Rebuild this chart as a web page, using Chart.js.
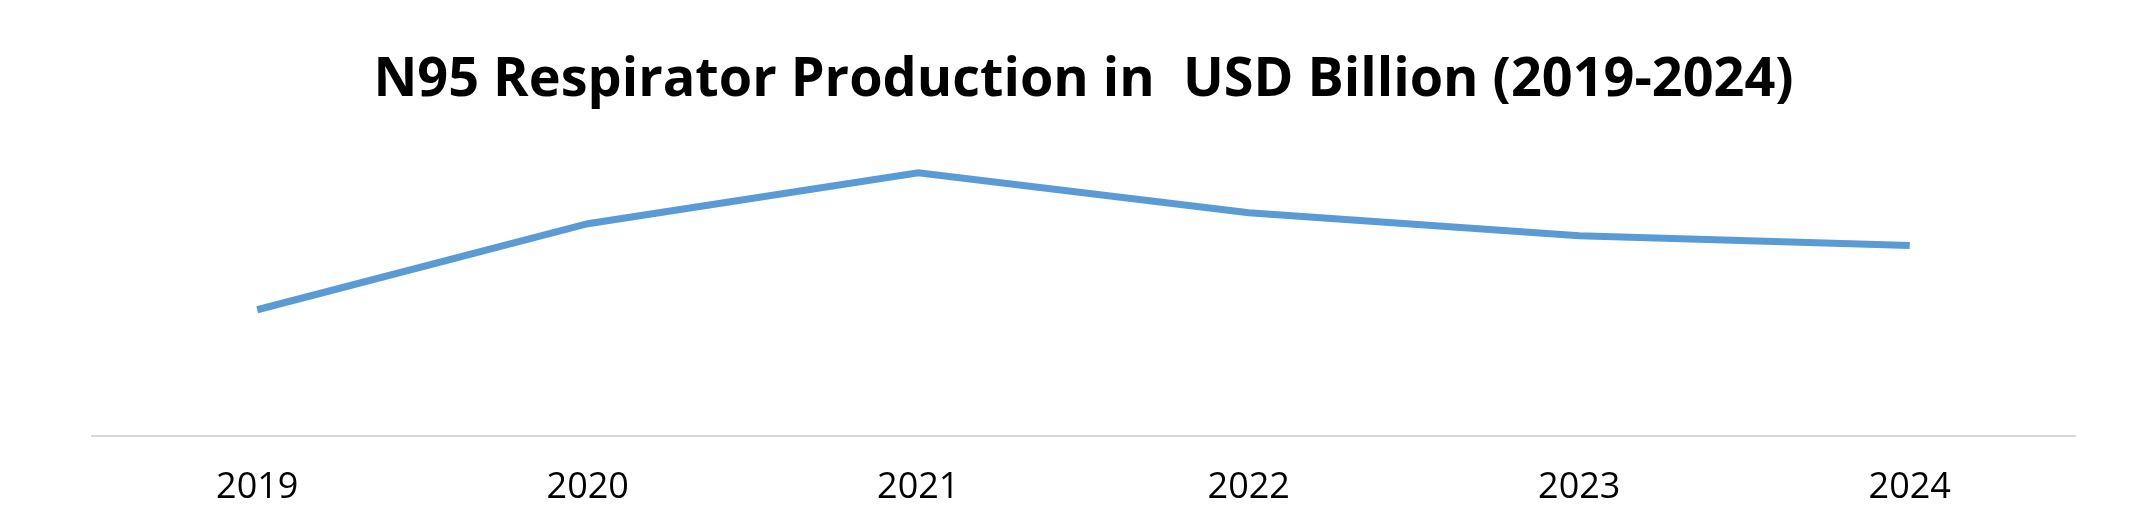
<!DOCTYPE html>
<html><head><meta charset="utf-8">
<script src="https://cdn.jsdelivr.net/npm/chart.js@4/dist/chart.umd.min.js"></script>
<style>html,body{margin:0;padding:0;background:#fff}#w{width:2135px;height:517px}</style>
</head><body><div id="w"><canvas id="c"></canvas></div>
<script>
const categories = ["2019","2020","2021","2022","2023","2024"];
const production = [1.04, 1.75, 2.17, 1.84, 1.65, 1.57];
const titleText = "N95 Respirator Production in  USD Billion (2019-2024)";

new Chart(document.getElementById('c'), {
  type: 'line',
  data: { labels: categories, datasets: [{ data: production, borderColor: '#5B9BD5', borderWidth: 7, pointRadius: 0, tension: 0, fill: false }] },
  options: {
    responsive: true, maintainAspectRatio: false, animation: false,
    layout: { padding: { left: 92, right: 60, top: 48, bottom: -14 } },
    plugins: {
      legend: { display: false }, tooltip: { enabled: false },
      title: { display: true, text: titleText, color: '#000', font: { family: 'Open Sans', size: 54, weight: 'bold' }, padding: { top: 0, bottom: 20 } }
    },
    scales: {
      x: { offset: true, grid: { display: false }, border: { color: '#d9d9d9', width: 2 },
           ticks: { color: '#000', font: { family: 'Open Sans', size: 36 }, padding: 22 } },
      y: { display: false, min: 0, max: 2.5 }
    }
  }
});
</script></body></html>
